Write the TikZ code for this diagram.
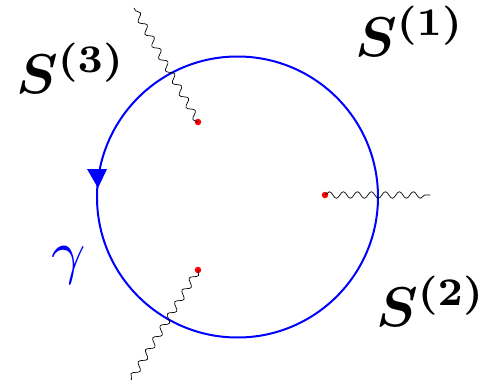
\documentclass[tikz,border=0pt]{standalone}
\usepackage{bm}
\usetikzlibrary{decorations.pathmorphing}
\begin{document}
\begin{tikzpicture}[x=1pt,y=-1pt,
  wave/.style={draw=black, line width=0.7pt, decorate, decoration={snake, amplitude=3.3pt, segment length=14pt}},
  vertex/.style={circle, fill=red, inner sep=0pt, minimum size=6.5pt},
  lab/.style={inner sep=0pt, scale=5.6},
  ring/.style={draw=blue, line width=2pt}]
\useasboundingbox (0,0) rectangle (483,383);
\coordinate (c) at (237.5,197);
\draw[ring] (c) circle[radius=140.5];
\fill[blue] (87,169) -- (107,169) -- (98,188) -- cycle;
\node[vertex] (d1) at (198,122) {};
\node[vertex] (d2) at (325,195) {};
\node[vertex] (d3) at (198,270) {};
\coordinate (e1) at (134,8);
\coordinate (e2) at (430,195);
\coordinate (e3) at (131,380);
\draw[wave] (d1.center) -- (e1);
\draw[wave] (d2.center) -- (e2);
\draw[wave] (d3.center) -- (e3);
\node[lab, anchor=base west] (s3) at (15,93) {$\bm{S}^{\bm{(3)}}$};
\node[lab, anchor=base west] (s1) at (354,56) {$\bm{S}^{\bm{(1)}}$};
\node[lab, anchor=base west] (s2) at (375,326) {$\bm{S}^{\bm{(2)}}$};
\node[inner sep=0pt, scale=6, anchor=base west, text=blue] (g) at (50,272) {$\gamma$};
\end{tikzpicture}
\end{document}
